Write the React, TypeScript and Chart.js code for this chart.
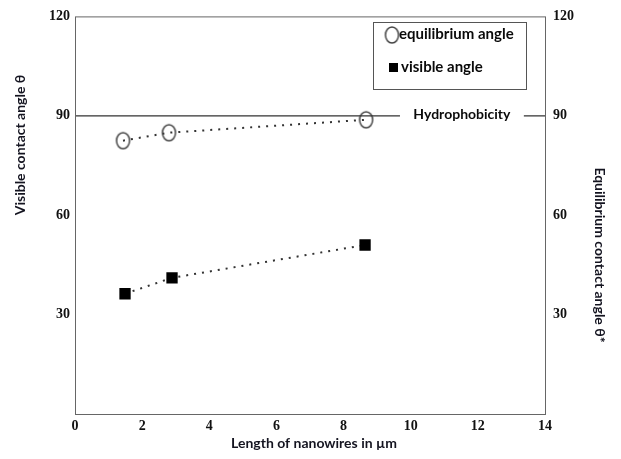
import React, { useEffect, useRef } from "react";
import { Chart, registerables } from "chart.js";

Chart.register(...registerables);

// Data
const equilibriumLengths = [1.43, 2.8, 8.67];
const equilibriumAngles = [82.5, 84.9, 88.8];
const visibleLengths = [1.49, 2.89, 8.64];
const visibleAngles = [36.3, 41.1, 51.0];
const hydrophobicityAngle = 90;
const hydroLineXs = [0, 9.68, null, 13.37, 14];
const xMin = 0, xMax = 14, xStep = 2;
const yMin = 0, yMax = 120, yStep = 30;

const xTitle = "Length of nanowires in µm";
const yLeftTitle = "Visible contact angle θ";
const yRightTitle = "Equilibrium contact angle θ*";
const hydroLabel = "Hydrophobicity";
const legendLabels = ["equilibrium angle", "visible angle"];

function makeEllipse(w: number, h: number) {
  const c = document.createElement("canvas");
  c.width = w + 4;
  c.height = h + 4;
  const ctx = c.getContext("2d")!;
  ctx.strokeStyle = "#444";
  ctx.lineWidth = 1.5;
  ctx.beginPath();
  ctx.ellipse(c.width / 2, c.height / 2, w / 2, h / 2, 0, 0, Math.PI * 2);
  ctx.stroke();
  return c;
}

const SANS = "Lato, 'Open Sans', sans-serif";
const SERIF = "'Liberation Serif', 'Times New Roman', serif";

export default function App() {
  const ref = useRef<HTMLCanvasElement | null>(null);
  useEffect(() => {
    const ellipse = makeEllipse(13, 16);
    const decor = {
      id: "decor",
      afterDraw(chart: any) {
        const { ctx, chartArea: a } = chart;
        ctx.save();
        // frame
        ctx.strokeStyle = "#666";
        ctx.lineWidth = 1;
        ctx.strokeRect(a.left + 0.5, a.top + 0.5, a.right - a.left, a.bottom - a.top);
        // hydrophobicity label
        const yS = chart.scales.y;
        const xS = chart.scales.x;
        const yh = yS.getPixelForValue(hydrophobicityAngle);
        ctx.fillStyle = "#0a0a0a";
        ctx.font = `bold 14px ${SANS}`;
        ctx.textAlign = "center";
        ctx.textBaseline = "middle";
        const gx = (xS.getPixelForValue(9.68) + xS.getPixelForValue(13.37)) / 2;
        ctx.fillText(hydroLabel, gx, yh - 1);
        // legend box
        ctx.strokeStyle = "#555";
        ctx.strokeRect(373.5, 22.5, 153, 67);
        ctx.drawImage(ellipse, 392 - ellipse.width / 2, 35 - ellipse.height / 2);
        ctx.font = `bold 15px ${SANS}`;
        ctx.textAlign = "left";
        ctx.fillText(legendLabels[0], 399, 34);
        ctx.fillStyle = "#000";
        ctx.fillRect(389, 63, 9, 9);
        ctx.fillStyle = "#0a0a0a";
        ctx.fillText(legendLabels[1], 401, 67);
        // axis titles
        ctx.font = `bold 14px ${SANS}`;
        ctx.fillStyle = "#141420";
        ctx.textAlign = "center";
        ctx.fillText(xTitle, 314, 443);
        ctx.save();
        ctx.translate(20, 145);
        ctx.rotate(-Math.PI / 2);
        ctx.fillText(yLeftTitle, 0, 0);
        ctx.restore();
        ctx.save();
        ctx.translate(600, 255);
        ctx.rotate(Math.PI / 2);
        ctx.fillText(yRightTitle, 0, 0);
        ctx.restore();
        ctx.restore();
      },
    };
    const tickFont = { family: SERIF, size: 14, weight: "bold" as const };
    const chart = new Chart(ref.current!, {
      type: "line",
      data: {
        datasets: [
          {
            label: "hydro",
            data: hydroLineXs.map((x) => (x === null ? { x: 11, y: null } : { x, y: hydrophobicityAngle })) as any,
            borderColor: "#333",
            borderWidth: 1.2,
            pointRadius: 0,
            spanGaps: false,
          },
          {
            label: legendLabels[0],
            data: equilibriumLengths.map((x, i) => ({ x, y: equilibriumAngles[i] })),
            borderColor: "#333",
            borderWidth: 2,
            borderDash: [2, 6],
            pointStyle: ellipse as any,
            pointRadius: 8,
          },
          {
            label: legendLabels[1],
            data: visibleLengths.map((x, i) => ({ x, y: visibleAngles[i] })),
            borderColor: "#333",
            borderWidth: 2,
            borderDash: [2, 6],
            pointStyle: "rect",
            pointRadius: 8,
            pointBackgroundColor: "#000",
            pointBorderColor: "#000",
            pointBorderWidth: 0,
          },
        ],
      },
      options: {
        animation: false,
        responsive: true,
        maintainAspectRatio: false,
        layout: { padding: { top: 14, left: 0, right: 0, bottom: 0 } },
        plugins: { legend: { display: false }, tooltip: { enabled: false } },
        scales: {
          x: {
            type: "linear",
            min: xMin,
            max: xMax,
            grid: { display: false, drawTicks: false },
            border: { display: false },
            ticks: { stepSize: xStep, padding: 4, color: "#111", font: tickFont, maxRotation: 0 },
            afterFit: (s: any) => { s.height = 45; },
          },
          y: {
            position: "left",
            min: yMin,
            max: yMax,
            grid: { display: false, drawTicks: false },
            border: { display: false },
            ticks: {
              stepSize: yStep,
              padding: 5,
              color: "#111",
              font: tickFont,
              callback: (v: any) => (v === 0 ? "" : String(v)),
            },
            afterFit: (s: any) => { s.width = 75; },
          },
          y2: {
            position: "right",
            min: yMin,
            max: yMax,
            grid: { display: false, drawTicks: false },
            border: { display: false },
            ticks: {
              stepSize: yStep,
              padding: 8,
              color: "#111",
              font: tickFont,
              callback: (v: any) => (v === 0 ? "" : String(v)),
            },
            afterFit: (s: any) => { s.width = 76; },
          },
        },
      },
      plugins: [decor],
    });
    return () => chart.destroy();
  }, []);
  return (
    <div style={{ position: "fixed", left: 0, top: 0, width: 621, height: 459, background: "#fff" }}>
      <canvas ref={ref} />
    </div>
  );
}
